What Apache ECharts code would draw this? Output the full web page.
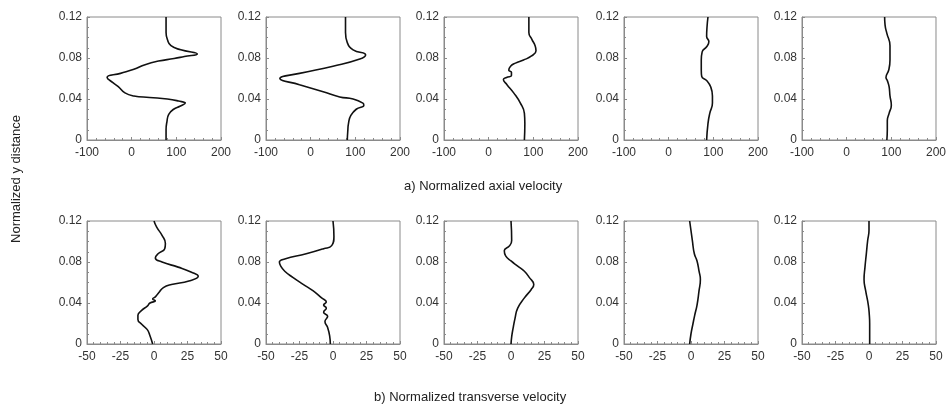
<!DOCTYPE html>
<html>
<head>
<meta charset="utf-8">
<script src="https://cdn.jsdelivr.net/npm/echarts@6/dist/echarts.min.js"></script>
<style>
  html, body { margin: 0; padding: 0; background: #fff; }
  #chart { width: 949px; height: 407px; }
</style>
</head>
<body>
<div id="chart"></div>
<script>
// profiles as [velocity, y distance], read top to bottom
// a) normalized axial velocity
const axial1 = [[77,0.12],[77,0.105],[80,0.098],[88,0.092],[110,0.088],[147,0.084],[118,0.0815],[95,0.0795],[60,0.077],[30,0.0735],[5,0.069],[-25,0.065],[-55,0.061],[-42,0.056],[-30,0.052],[-15,0.046],[5,0.043],[40,0.0415],[80,0.040],[105,0.038],[120,0.036],[108,0.033],[94,0.030],[83,0.025],[79,0.018],[77,0.010],[77,0]];
const axial2 = [[78,0.12],[78,0.105],[82,0.095],[95,0.088],[123,0.083],[110,0.079],[50,0.072],[-25,0.065],[-69,0.060],[-25,0.054],[28,0.047],[65,0.042],[95,0.040],[117,0.036],[119,0.034],[102,0.030],[90,0.024],[85,0.017],[83,0.008],[82,0]];
const axial3 = [[90,0.12],[90,0.105],[97,0.098],[104,0.092],[106,0.087],[96,0.082],[78,0.078],[60,0.075],[49,0.072],[45,0.068],[51,0.066],[51,0.063],[40,0.061],[33,0.059],[41,0.054],[56,0.046],[71,0.036],[80,0.026],[81,0.016],[80,0]];
const axial4 = [[88,0.12],[86,0.111],[85,0.101],[90,0.096],[85,0.091],[75,0.086],[73,0.078],[73,0.068],[74,0.062],[85,0.058],[94,0.052],[98,0.043],[98,0.036],[92,0.026],[88,0.016],[85,0]];
const axial5 = [[85,0.12],[86,0.112],[90,0.104],[97,0.092],[97,0.078],[94,0.068],[88,0.061],[91,0.058],[95,0.052],[97,0.043],[100,0.034],[95,0.026],[91,0.019],[91,0.010],[90,0]];

// b) normalized transverse velocity
const trans1 = [[0,0.12],[2,0.114],[6,0.106],[8.5,0.098],[8,0.093],[3,0.088],[1,0.084],[6,0.080],[18,0.075],[28,0.070],[33,0.066],[26,0.0615],[13,0.058],[7,0.055],[3.5,0.050],[1,0.046],[-1,0.044],[1,0.042],[-3,0.040],[-5,0.037],[-9,0.033],[-12,0.028],[-12,0.024],[-9,0.019],[-5,0.014],[-3,0.008],[-1,0]];
const trans2 = [[0,0.12],[0.7,0.105],[-1,0.096],[-7,0.093],[-20,0.088],[-36,0.083],[-40,0.080],[-39,0.076],[-36,0.071],[-30,0.065],[-22,0.058],[-15,0.052],[-8.5,0.045],[-5,0.041],[-7,0.038],[-5,0.035],[-7,0.031],[-4,0.027],[-6,0.022],[-4,0.016],[-2.5,0.008],[-2,0]];
const trans3 = [[0,0.12],[0.5,0.101],[-1,0.096],[-5,0.091],[-4,0.086],[0,0.081],[5,0.076],[10,0.071],[13.6,0.065],[17,0.058],[15,0.053],[10,0.045],[5,0.035],[3,0.025],[1.5,0.015],[0.5,0.007],[0,0]];
const trans4 = [[-1,0.12],[1,0.101],[2.5,0.088],[4.5,0.081],[6,0.071],[7,0.063],[6,0.052],[4.5,0.038],[2.75,0.028],[1.5,0.02],[0,0.01],[-1,0]];
const trans5 = [[0,0.12],[0,0.111],[-1,0.101],[-2,0.088],[-3,0.075],[-3.7,0.063],[-2.5,0.052],[-0.5,0.038],[0.25,0.028],[0.5,0.02],[0.5,0]];

// axis ranges [min, max, interval]
const axialRange = [-100, 200, 100];
const transRange = [-50, 50, 25];
const yRange = [0, 0.12, 0.04];

const rows = [
  { top: 17, data: [axial1, axial2, axial3, axial4, axial5], range: axialRange },
  { top: 221, data: [trans1, trans2, trans3, trans4, trans5], range: transRange }
];
const lefts = [87, 266, 444, 624, 802];

const font = "'Liberation Sans', Arial, sans-serif";
const gray = "#8a8a8a";

const grid = [], xAxis = [], yAxis = [], series = [];
rows.forEach((row) => {
  row.data.forEach((d, i) => {
    const k = grid.length;
    grid.push({
      left: lefts[i], top: row.top, width: 134, height: 123,
      show: true, borderColor: gray, borderWidth: 1, backgroundColor: "#fff"
    });
    xAxis.push({
      type: "value", gridIndex: k,
      min: row.range[0], max: row.range[1], interval: row.range[2],
      axisLine: { show: true, onZero: false, lineStyle: { color: gray } },
      axisTick: { show: true, inside: true, length: 3, lineStyle: { color: gray } },
      minorTick: { show: true, splitNumber: 5, length: 2, lineStyle: { color: gray } },
      splitLine: { show: false },
      axisLabel: { color: "#333", fontSize: 12, fontFamily: font, margin: 7 }
    });
    yAxis.push({
      type: "value", gridIndex: k,
      min: yRange[0], max: yRange[1], interval: yRange[2],
      axisLine: { show: true, onZero: false, lineStyle: { color: gray } },
      axisTick: { show: true, inside: true, length: 3, lineStyle: { color: gray } },
      minorTick: { show: true, splitNumber: 4, length: 2, lineStyle: { color: gray } },
      splitLine: { show: false },
      axisLabel: { color: "#333", fontSize: 12, fontFamily: font, margin: 5 }
    });
    series.push({
      type: "line", xAxisIndex: k, yAxisIndex: k,
      data: d, showSymbol: false, smooth: 0.5,
      lineStyle: { color: "#111", width: 1.6 }, silent: true
    });
  });
});

const chart = echarts.init(document.getElementById("chart"), null, { renderer: "canvas" });
chart.setOption({
  animation: false,
  backgroundColor: "#fff",
  grid, xAxis, yAxis, series,
  graphic: [
    {
      type: "text", left: 404, top: 180,
      style: { text: "a) Normalized axial velocity", font: "13px " + font, fill: "#222" }
    },
    {
      type: "text", left: 374, top: 391,
      style: { text: "b) Normalized transverse velocity", font: "13px " + font, fill: "#222" }
    },
    {
      type: "text", x: 16, y: 179, rotation: Math.PI / 2,
      style: { text: "Normalized y distance", font: "13px " + font, fill: "#222",
               align: "center", verticalAlign: "middle" }
    }
  ]
});
</script>
</body>
</html>
